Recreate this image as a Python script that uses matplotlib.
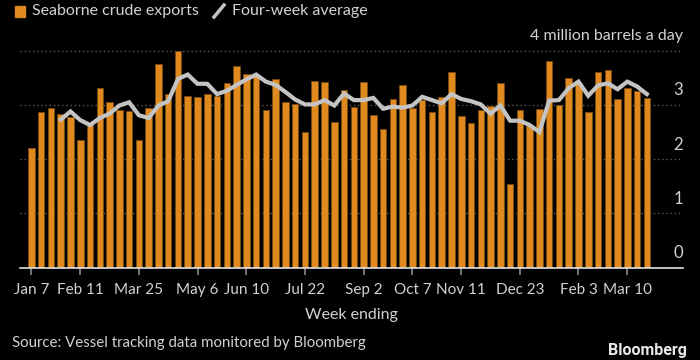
import numpy as np
import pandas as pd
import matplotlib.pyplot as plt
import matplotlib.dates as mdates
from matplotlib.lines import Line2D
from matplotlib.patches import Rectangle

plt.rcParams['font.family'] = ['Lato', 'DejaVu Sans']

# weekly seaborne crude exports, million barrels a day
weeks = pd.date_range('2018-01-07', periods=64, freq='7D')
exports = [2.20, 2.87, 2.94, 2.84, 2.77, 2.35, 2.66, 3.32, 3.06, 2.91,
           2.89, 2.35, 2.94, 3.76, 3.20, 4.00, 3.16, 3.14, 3.20, 3.17,
           3.40, 3.71, 3.57, 3.55, 2.90, 3.48, 3.06, 3.01, 2.50, 3.44,
           3.42, 2.68, 3.28, 2.96, 3.42, 2.81, 2.55, 3.11, 3.36, 2.94,
           3.09, 2.87, 3.14, 3.60, 2.79, 2.66, 2.90, 2.98, 3.40, 1.54,
           2.90, 2.61, 2.92, 3.81, 3.00, 3.49, 3.40, 2.87, 3.60, 3.64,
           3.11, 3.32, 3.25, 3.13]
# four-week average, starts at the fourth week
avg4 = [2.73, 2.88, 2.72, 2.63, 2.76, 2.84, 2.99, 3.05, 2.81, 2.76,
        2.99, 3.07, 3.48, 3.56, 3.39, 3.39, 3.20, 3.26, 3.37, 3.47,
        3.56, 3.43, 3.37, 3.24, 3.10, 3.01, 3.01, 3.09, 2.99, 3.21,
        3.09, 3.09, 3.13, 2.93, 2.97, 2.95, 2.99, 3.15, 3.09, 3.03,
        3.20, 3.11, 3.07, 3.01, 2.84, 2.99, 2.71, 2.71, 2.63, 2.50,
        3.08, 3.09, 3.31, 3.43, 3.17, 3.36, 3.40, 3.29, 3.43, 3.34,
        3.20]
tick_dates = ['2018-01-07', '2018-02-11', '2018-03-25', '2018-05-06',
              '2018-06-10', '2018-07-22', '2018-09-02', '2018-10-07',
              '2018-11-11', '2018-12-23', '2019-02-03', '2019-03-10']
tick_labels = ['Jan 7', 'Feb 11', 'Mar 25', 'May 6', 'Jun 10', 'Jul 22',
               'Sep 2', 'Oct 7', 'Nov 11', 'Dec 23', 'Feb 3', 'Mar 10']
y_ticks = [0, 1, 2, 3, 4]

bg = 'black'
orange = '#e0891f'
grey_line = '#c4c4c4'
txt = '#d2d2d2'

fig = plt.figure(figsize=(7, 3.6), dpi=100, facecolor=bg)
ax = fig.add_axes([20 / 700, 92.3 / 360, 663 / 700, 219.7 / 360], facecolor=bg)

ax.bar(weeks, exports, width=4.7, color=orange, edgecolor='#7a4c14',
       linewidth=0.6, zorder=2)
ax.plot(weeks[3:], avg4, color=grey_line, lw=3.0, zorder=3,
        solid_joinstyle='miter')

x0 = weeks[0] - pd.Timedelta(days=8.2)
x1 = weeks[0] + pd.Timedelta(days=7 * 66.7)
ax.set_xlim(x0, x1)
ax.set_ylim(0, 4.05)

for y in y_ticks[1:]:
    ax.axhline(y, color='#5e5e5e', lw=1.0, ls=(0, (1, 2)), zorder=1)
    if y < 4:
        ax.text(1.0, y + 0.27, str(y), transform=ax.get_yaxis_transform(),
                ha='right', va='center', color=txt, fontsize=12)
ax.text(1.0, 0.27, '0', transform=ax.get_yaxis_transform(),
        ha='right', va='center', color=txt, fontsize=12)
ax.text(1.0, 4.27, '4 million barrels a day', transform=ax.get_yaxis_transform(),
        ha='right', va='center', color=txt, fontsize=11.5)

for s in ['top', 'right', 'left']:
    ax.spines[s].set_visible(False)
ax.spines['bottom'].set_color('#e0e0e0')
ax.spines['bottom'].set_linewidth(1.2)
ax.set_yticks([])
ax.set_xticks(pd.to_datetime(tick_dates))
ax.set_xticklabels(tick_labels, color=txt, fontsize=11)
ax.tick_params(axis='x', length=5, width=1.2, color='#8a8a8a', pad=6)
ax.set_xlabel('Week ending', color=txt, fontsize=11.5, labelpad=8)

# legend row at the top
fig.patches.append(Rectangle((15 / 700, 1 - 17 / 360), 10 / 700, 11 / 360,
                             transform=fig.transFigure, color=orange))
fig.text(32 / 700, 1 - 11 / 360, 'Seaborne crude exports', color=txt,
         fontsize=11.5, va='center')
fig.lines.append(Line2D([214 / 700, 224 / 700], [1 - 17 / 360, 1 - 5 / 360],
                        transform=fig.transFigure, color=grey_line, lw=2.5))
fig.text(232 / 700, 1 - 11 / 360, 'Four-week average', color=txt,
         fontsize=11.5, va='center')

fig.text(12 / 700, 1 - 343 / 360, 'Source: Vessel tracking data monitored by Bloomberg',
         color=txt, fontsize=10.8, va='center')
fig.text(687 / 700, 1 - 350 / 360, 'Bloomberg', color='#e8e8e8', fontsize=11.5,
         fontweight='bold', ha='right', va='center', family=['Roboto', 'DejaVu Sans'])

fig.savefig('out.png', dpi=100, facecolor=bg)
